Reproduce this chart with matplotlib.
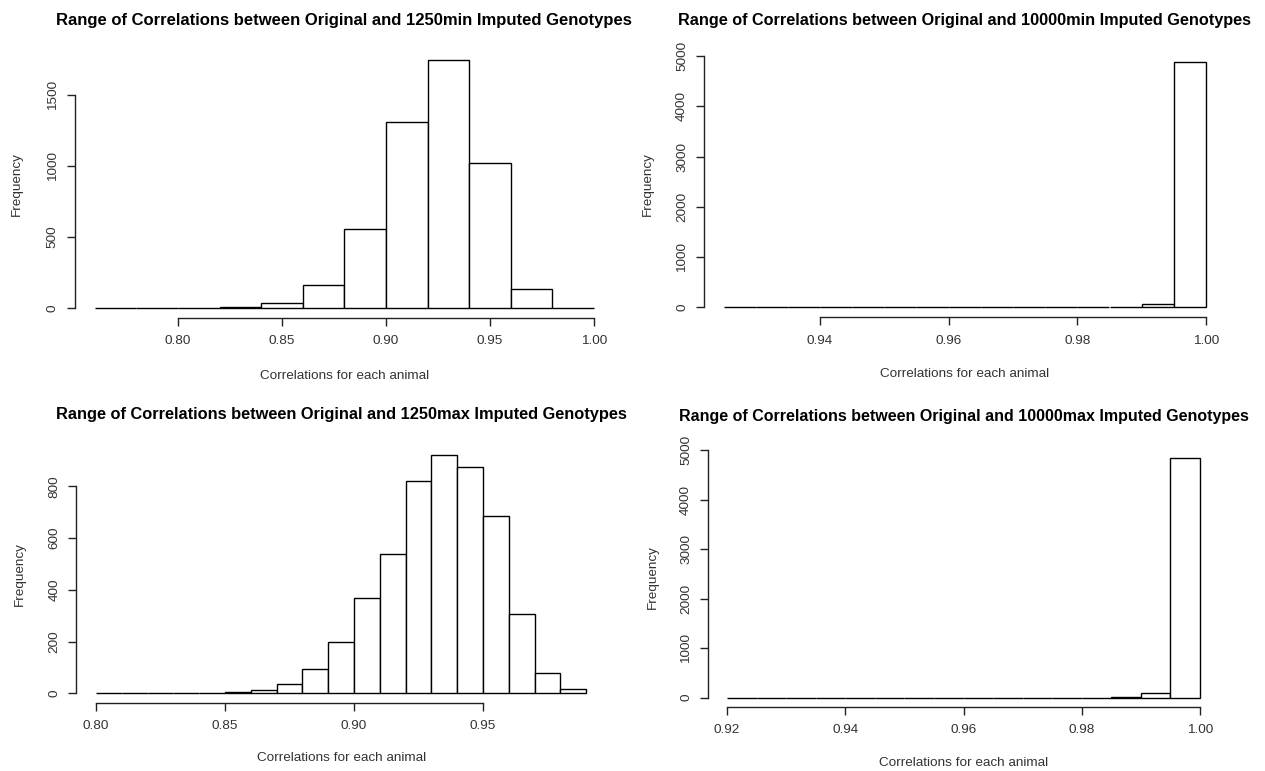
import numpy as np
import matplotlib
matplotlib.use("Agg")
import matplotlib.pyplot as plt

plt.rcParams['font.family'] = ['Liberation Sans', 'DejaVu Sans']

# Histogram data: bin edges and counts for each imputation scenario
breaks_1250min = np.round(np.arange(0.76, 1.0001, 0.02), 3)
counts_1250min = [1, 0, 4, 6, 35, 163, 552, 1309, 1741, 1019, 134, 0]

breaks_10000min = np.round(np.arange(0.925, 1.0001, 0.005), 3)
counts_10000min = [1, 0, 0, 0, 0, 0, 0, 0, 0, 0, 0, 0, 3, 60, 4890]

breaks_1250max = np.round(np.arange(0.80, 0.9901, 0.01), 3)
counts_1250max = [1, 0, 0, 0, 3, 4, 12, 35, 93, 198, 369, 540, 819, 920, 874,
                  687, 307, 78, 16]

breaks_10000max = np.round(np.arange(0.92, 1.0001, 0.005), 3)
counts_10000max = [0, 0, 0, 0, 0, 0, 0, 0, 0, 0, 0, 0, 0, 15, 88, 4850]

xticks_1250min = [0.80, 0.85, 0.90, 0.95, 1.00]
yticks_1250min = [0, 500, 1000, 1500]
xticks_10000min = [0.94, 0.96, 0.98, 1.00]
yticks_10000min = [0, 1000, 2000, 3000, 4000, 5000]
xticks_1250max = [0.80, 0.85, 0.90, 0.95]
yticks_1250max = [0, 200, 400, 600, 800]
xticks_10000max = [0.92, 0.94, 0.96, 0.98, 1.00]
yticks_10000max = [0, 1000, 2000, 3000, 4000, 5000]

titles = [
    "Range of Correlations between Original and 1250min Imputed Genotypes",
    "Range of Correlations between Original and 10000min Imputed Genotypes",
    "Range of Correlations between Original and 1250max Imputed Genotypes",
    "Range of Correlations between Original and 10000max Imputed Genotypes",
]
xlabel = "Correlations for each animal"
ylabel = "Frequency"

W, H = 1265, 771
fig = plt.figure(figsize=(W / 100, H / 100), dpi=100)
fig.patch.set_facecolor("white")

# plot regions in pixels: left, right, top, bottom
boxes = [
    (74.8, 614.0, 50.3, 318.0),
    (704.2, 1225.3, 51.7, 317.3),
    (76.4, 605.8, 445.7, 703.0),
    (708.1, 1218.9, 448.0, 707.1),
]
# vertical pixel positions of title, x label; horizontal of y label
text_pos = [
    (20, 376, 17),
    (21, 374, 648),
    (414, 758, 20),
    (416, 763, 653),
]
title_sizes = [12, 11.7, 11.8, 11.5]

panels = [
    (breaks_1250min, counts_1250min, xticks_1250min, yticks_1250min),
    (breaks_10000min, counts_10000min, xticks_10000min, yticks_10000min),
    (breaks_1250max, counts_1250max, xticks_1250max, yticks_1250max),
    (breaks_10000max, counts_10000max, xticks_10000max, yticks_10000max),
]

label_size = 9.7

for i, (brk, cnt, xt, yt) in enumerate(panels):
    l, r, t, b = boxes[i]
    ax = fig.add_axes([l / W, 1 - b / H, (r - l) / W, (b - t) / H])
    brk = np.asarray(brk)
    cnt = np.asarray(cnt)
    widths = np.diff(brk)
    ax.bar(brk[:-1], cnt, width=widths, align="edge", facecolor="white",
           edgecolor="black", linewidth=1.0)
    xr = brk[-1] - brk[0]
    ax.set_xlim(brk[0] - 0.04 * xr, brk[-1] + 0.04 * xr)
    ym = cnt.max()
    ax.set_ylim(-0.04 * ym, 1.04 * ym)

    for s in ("top", "right"):
        ax.spines[s].set_visible(False)
    ax.spines["left"].set_bounds(yt[0], yt[-1])
    ax.spines["bottom"].set_bounds(xt[0], xt[-1])
    for s in ("left", "bottom"):
        ax.spines[s].set_linewidth(1.0)
        ax.spines[s].set_color("#222222")

    ax.set_xticks(xt)
    ax.set_xticklabels([f"{v:.2f}" for v in xt])
    ax.set_yticks(yt)
    ax.set_yticklabels([str(v) for v in yt], rotation=90, va="center")
    ax.tick_params(axis="both", direction="out", length=5.5, width=1.0,
                   color="#222222", labelsize=label_size,
                   labelcolor="#333333")
    ax.tick_params(axis="x", pad=7)
    ax.tick_params(axis="y", pad=6)
    ax.patch.set_alpha(0)

    ty, xy, yx = text_pos[i]
    cx = (l + r) / 2
    fig.text(cx / W, 1 - ty / H, titles[i], ha="center", va="center",
             fontsize=title_sizes[i], fontweight="bold", color="black")
    fig.text(cx / W, 1 - xy / H, xlabel, ha="center", va="center",
             fontsize=label_size, color="#333333")
    fig.text(yx / W, 1 - ((t + b) / 2) / H, ylabel, ha="center",
             va="center", rotation=90, fontsize=label_size, color="#333333")

fig.savefig("out.png", dpi=100, facecolor="white")
